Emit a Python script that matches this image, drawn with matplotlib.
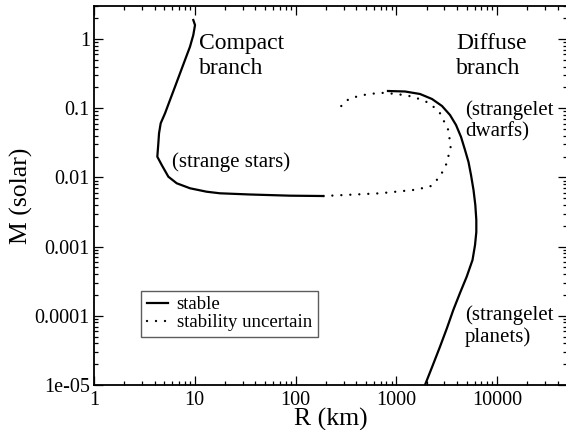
import matplotlib
matplotlib.use("Agg")
import matplotlib.pyplot as plt
from matplotlib.ticker import FixedLocator, FixedFormatter, LogLocator, NullFormatter

plt.rcParams['font.family'] = ['Liberation Serif', 'DejaVu Serif']

# Compact branch (strange stars), stable
compact_R = [9.67, 10.06, 9.67, 8.97, 8.00, 7.14, 6.37, 5.68, 5.07, 4.59, 4.42, 4.35, 4.25,
             4.70, 5.47, 6.62, 8.97, 13.1, 17.8, 35.3, 88.2, 189]
compact_M = [1.88, 1.59, 1.14, 0.774, 0.497, 0.319, 0.2045, 0.1314, 0.0844, 0.0605, 0.0434,
             0.0311, 0.0199, 0.0151, 0.01023, 0.00822, 0.00696, 0.00621, 0.00589, 0.00566,
             0.00544, 0.00538]

# Stability uncertain (dotted)
uncert_R = [189, 690, 1476, 2162, 2719, 3168, 3470, 3286, 2719, 2162, 1476, 1011, 690, 471,
            347, 298, 266, 262]
uncert_M = [0.00538, 0.00589, 0.00658, 0.00734, 0.01024, 0.0160, 0.0278, 0.0484, 0.0844,
            0.1177, 0.1466, 0.1604, 0.1675, 0.155, 0.139, 0.1177, 0.0942, 0.090]

# Diffuse branch (strangelet dwarfs / planets), stable
diffuse_R = [828, 1222, 1721, 2264, 2845, 3417, 3919, 4395, 4813, 5213, 5521, 5846, 6093,
             6234, 6234, 6053, 5715, 5003, 4293, 3683, 3189, 2719, 2289, 1929, 1762]
diffuse_M = [0.1772, 0.1743, 0.1604, 0.1358, 0.1076, 0.0797, 0.0572, 0.0384, 0.0249, 0.0167,
             0.01083, 0.00657, 0.00399, 0.00242, 0.001626, 0.001054, 0.000640, 0.000367,
             0.0002136, 0.0001213, 6.66e-5, 3.58e-5, 1.88e-5, 1e-5, 7.17e-6]

x_ticks = [1, 10, 100, 1000, 10000]
x_labels = ["1", "10", "100", "1000", "10000"]
y_ticks = [1e-5, 1e-4, 1e-3, 1e-2, 1e-1, 1]
y_labels = ["1e-05", "0.0001", "0.001", "0.01", "0.1", "1"]

fig = plt.figure(figsize=(5.66, 4.30), dpi=100)
ax = fig.add_axes([0.1661, 0.1047, 0.8364, 0.8814])

ax.plot(compact_R, compact_M, color='black', lw=1.6, solid_joinstyle='round', label='stable')
ax.plot(uncert_R, uncert_M, color='black', lw=1.7, linestyle=(0, (0.01, 3.8)),
        dash_capstyle='round', label='stability uncertain')
ax.plot(diffuse_R, diffuse_M, color='black', lw=1.6, solid_joinstyle='round')

ax.set_xscale('log')
ax.set_yscale('log')
ax.set_xlim(1, 5e4)
ax.set_ylim(1e-5, 3)

ax.xaxis.set_major_locator(FixedLocator(x_ticks))
ax.xaxis.set_major_formatter(FixedFormatter(x_labels))
ax.yaxis.set_major_locator(FixedLocator(y_ticks))
ax.yaxis.set_major_formatter(FixedFormatter(y_labels))
ax.xaxis.set_minor_locator(LogLocator(base=10, subs=range(2, 10), numticks=20))
ax.yaxis.set_minor_locator(LogLocator(base=10, subs=range(2, 10), numticks=20))
ax.xaxis.set_minor_formatter(NullFormatter())
ax.yaxis.set_minor_formatter(NullFormatter())

ax.tick_params(which='both', direction='in', top=True, right=True, width=0.9, labelsize=14.5)
ax.tick_params(which='major', length=6.5, pad=4)
ax.tick_params(which='minor', length=3.2)
ax.tick_params(axis='y', which='major', pad=3)
for s in ax.spines.values():
    s.set_linewidth(1.3)

ax.set_xlabel('R (km)', fontsize=18.5, labelpad=-1)
ax.set_ylabel('M (solar)', fontsize=18.5, labelpad=1)

tk = dict(transform=ax.transAxes, va='baseline', ha='left', color='black')
ax.text(0.2218, 0.8857, 'Compact', fontsize=17, **tk)
ax.text(0.2218, 0.8206, 'branch', fontsize=17, **tk)
ax.text(0.7647, 0.8857, 'Diffuse', fontsize=17, **tk)
ax.text(0.7647, 0.8206, 'branch', fontsize=17, **tk)
ax.text(0.1648, 0.576, '(strange stars)', fontsize=15, **tk)
ax.text(0.7837, 0.7124, '(strangelet', fontsize=15, **tk)
ax.text(0.7837, 0.6544, 'dwarfs)', fontsize=15, **tk)
ax.text(0.7837, 0.1715, '(strangelet', fontsize=15, **tk)
ax.text(0.7837, 0.1142, 'planets)', fontsize=15, **tk)

leg = ax.legend(loc='lower left', bbox_to_anchor=(0.0993, 0.1266), borderaxespad=0,
                fontsize=13.5, frameon=True, fancybox=False, handlelength=1.15,
                handletextpad=0.45, borderpad=0.3, labelspacing=0.05)
leg.get_frame().set_edgecolor('#333333')
leg.get_frame().set_linewidth(1.0)

fig.savefig('out.png', dpi=100)
